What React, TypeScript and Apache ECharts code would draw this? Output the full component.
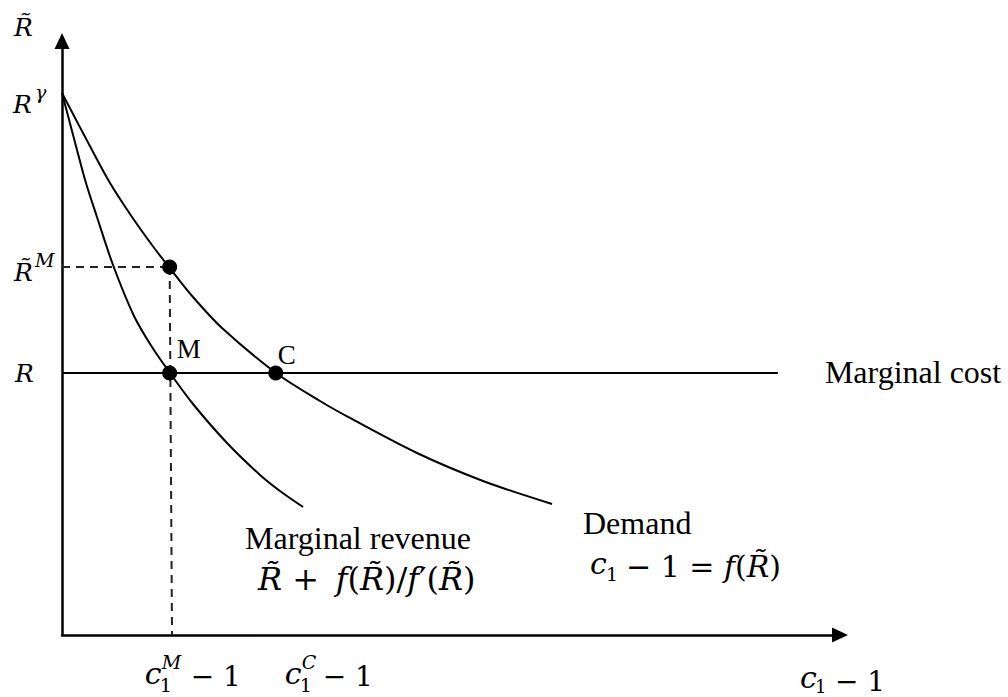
import React, { useEffect, useRef } from 'react';
import * as echarts from 'echarts';

// ---- data (abstract units) ----
const X_MAX = 99;
const Y_MAX = 99;
const R_GAMMA = 90.33; // R^γ : intercept of both curves
const R_M = 61.33; // R̃^M : monopoly rate on demand
const R_BASE = 43.67; // R : marginal cost
const X_M = 13.7; // c1^M - 1
const X_C = 27.2; // c1^C - 1
const MC_END = 91.1; // end of the marginal cost line

const demandX = [0, 3.82, 6.11, 8.91, 11.83, 13.62, 16.67, 20.36, 27.23, 32.83, 36.64, 45.17, 53.57, 62.35];
const demandY = [90.33, 80.83, 75.33, 69.67, 64.33, 61.33, 56.33, 51.17, 43.67, 39.0, 36.17, 30.33, 25.67, 21.83];
const mrX = [0, 1.91, 3.05, 4.45, 6.49, 9.16, 11.45, 13.74, 16.67, 21.0, 25.2, 27.74, 30.67];
const mrY = [90.33, 80.83, 75.33, 69.67, 61.67, 53.17, 48.0, 43.67, 38.5, 32.0, 26.67, 24.0, 21.33];

const SERIF = '"Liberation Serif", "Times New Roman", serif';
const MATH = '"DejaVu Serif", serif';

export default function App() {
  const ref = useRef<HTMLDivElement>(null);
  useEffect(() => {
    const chart = echarts.init(ref.current!, null, { renderer: 'svg' });
    const axisCommon = {
      type: 'value' as const,
      axisLine: {
        show: true,
        symbol: ['none', 'triangle'],
        symbolSize: [15, 16],
        lineStyle: { color: '#000', width: 2.5 },
      },
      axisTick: { show: false },
      axisLabel: { show: false },
      splitLine: { show: false },
    };
    const lineStyle = { color: '#000', width: 2 };
    const dashed = { color: '#222', width: 2, type: [8, 6] as number[] };
    chart.setOption({
      animation: false,
      backgroundColor: '#fff',
      grid: { left: 62, right: 168, top: 41, bottom: 62 },
      xAxis: { ...axisCommon, min: 0, max: X_MAX },
      yAxis: { ...axisCommon, min: 0, max: Y_MAX },
      series: [
        {
          name: 'Demand',
          type: 'line',
          data: demandX.map((x, i) => [x, demandY[i]]),
          smooth: 0.3,
          showSymbol: false,
          lineStyle,
          z: 3,
        },
        {
          name: 'Marginal revenue',
          type: 'line',
          data: mrX.map((x, i) => [x, mrY[i]]),
          smooth: 0.3,
          showSymbol: false,
          lineStyle,
          z: 3,
        },
        {
          name: 'Marginal cost',
          type: 'line',
          data: [
            [0, R_BASE],
            [MC_END, R_BASE],
          ],
          showSymbol: false,
          lineStyle,
          z: 3,
        },
        {
          name: 'guide-h',
          type: 'line',
          data: [
            [0, R_M],
            [X_M, R_M],
          ],
          showSymbol: false,
          lineStyle: dashed,
          z: 2,
        },
        {
          name: 'guide-v',
          type: 'line',
          data: [
            [X_M, R_M],
            [X_M + 0.3, 0],
          ],
          showSymbol: false,
          lineStyle: dashed,
          z: 2,
        },
        {
          name: 'points',
          type: 'scatter',
          data: [
            [X_M, R_M],
            [X_M, R_BASE],
            [X_C, R_BASE],
          ],
          symbolSize: 15,
          itemStyle: { color: '#000', opacity: 1 },
          z: 5,
        },
      ],
    });

    const p = (x: number, y: number) =>
      chart.convertToPixel({ gridIndex: 0 }, [x, y]) as number[];

    const T = (
      x: number,
      y: number,
      text: string,
      size: number,
      opts: { italic?: boolean; font?: string; rich?: any } = {}
    ) => ({
      type: 'text',
      x,
      y,
      silent: true,
      z: 10,
      style: {
        text,
        fontSize: size,
        fontFamily: opts.font || SERIF,
        fontStyle: opts.italic ? 'italic' : 'normal',
        fill: '#000',
        align: 'left',
        verticalAlign: 'middle',
        rich: opts.rich,
      },
    });
    const MI = (x: number, y: number, text: string, size: number) =>
      T(x, y, text, size, { italic: true, font: MATH });
    const MU = (x: number, y: number, text: string, size: number, rich?: any) =>
      T(x, y, text, size, { font: MATH, rich });

    const yTop = p(0, Y_MAX);
    const pRg = p(0, R_GAMMA);
    const pRM = p(0, R_M);
    const pR = p(0, R_BASE);
    const pM = p(X_M, R_BASE);
    const pC = p(X_C, R_BASE);
    const pMC = p(MC_END, R_BASE);
    const pMR = p(mrX[mrX.length - 1], mrY[mrY.length - 1]);
    const pD = p(demandX[demandX.length - 1], demandY[demandY.length - 1]);
    const pXM = p(X_M, 0);
    const pXC = p(X_C, 0);
    const pXE = p(X_MAX, 0);

    const it = (s: number) => ({ fontStyle: 'italic', fontFamily: MATH, fontSize: s });

    const cLabel = (x: number, y: number, sup: string, tailDx: number) => [
      MI(x, y + 38, 'c', 30),
      MU(x + 15, y + 50, '1', 19),
      ...(sup ? [MI(x + 17, y + 27, sup, 19)] : []),
      MU(x + tailDx, y + 41, '\u2212 1', 28),
    ];

    const elements: any[] = [
      MI(yTop[0] - 48, yTop[1] - 14, 'R\u0303', 25),
      MI(pRg[0] - 49, pRg[1] + 11, 'R', 25),
      MI(pRg[0] - 27, pRg[1] - 1, 'γ', 19),
      MI(pRM[0] - 48, pRM[1] + 5, 'R\u0303', 25),
      MI(pRM[0] - 27, pRM[1] - 7, 'M', 19),
      MI(pR[0] - 47, pR[1] + 1, 'R', 25),
      T(pM[0] + 7, pM[1] - 24, 'M', 27),
      T(pC[0] + 2, pC[1] - 18, 'C', 27),
      T(pMC[0] + 47, pMC[1] - 1, 'Marginal cost', 32),
      T(pMR[0] - 58, pMR[1] + 31, 'Marginal revenue', 32),
      MU(
        pMR[0] - 45,
        pMR[1] + 72,
        '{i|R\u0303} + \u2009{i|f}({i|R\u0303})/{i|f}\u2032({i|R\u0303})',
        32,
        { i: it(32) }
      ),
      T(pD[0] + 31, pD[1] + 19, 'Demand', 32),
      MI(pD[0] + 38, pD[1] + 59, 'c', 30),
      MU(pD[0] + 54, pD[1] + 70, '1', 19),
      MU(pD[0] + 74, pD[1] + 62, '\u2212 1 = {i|f}({i|R\u0303})', 30, { i: it(30) }),
      ...cLabel(pXM[0] - 25, pXM[1], 'M', 46),
      ...cLabel(pXC[0] + 9, pXC[1], 'C', 38),
      MI(pXE[0] - 40, pXE[1] + 42, 'c', 30),
      MU(pXE[0] - 25, pXE[1] + 51, '1', 18),
      MU(pXE[0] - 5, pXE[1] + 46, '\u2212 1', 28),
    ];

    chart.setOption({ graphic: { elements } });
    return () => chart.dispose();
  }, []);
  return (
    <div
      ref={ref}
      style={{ position: 'fixed', left: 0, top: 0, width: 1008, height: 697, background: '#fff' }}
    />
  );
}
